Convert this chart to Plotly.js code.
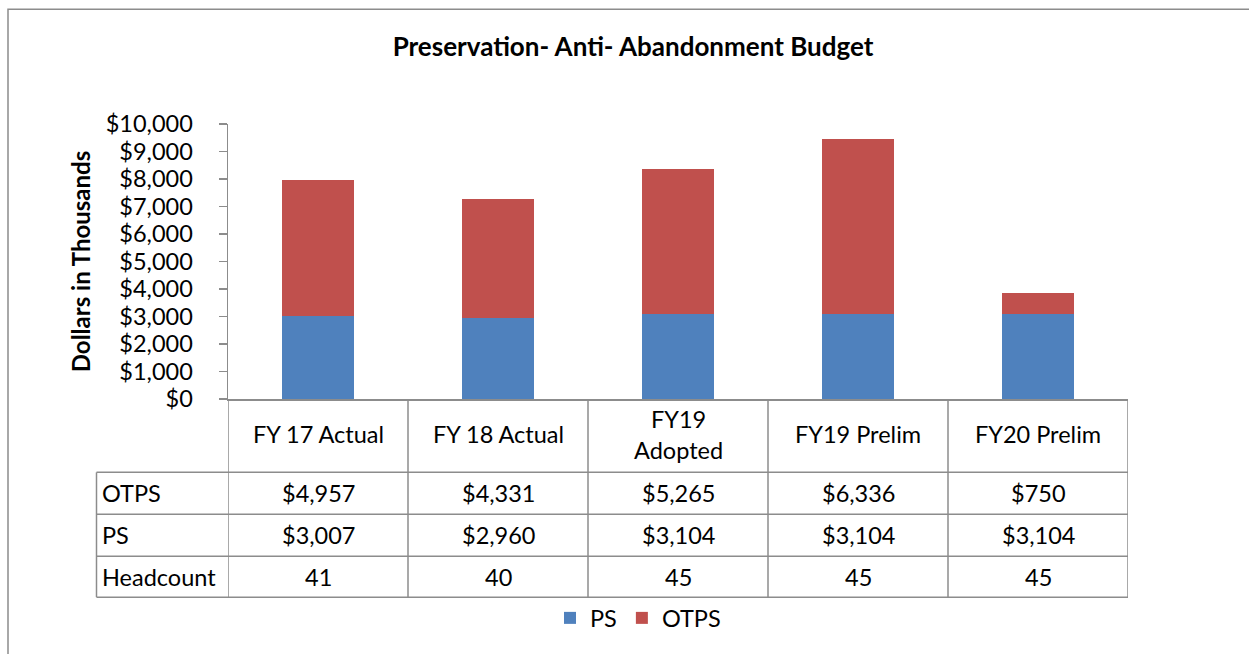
<!DOCTYPE html>
<html>
<head>
<meta charset="utf-8">
<script src="https://cdn.plot.ly/plotly-3.0.1.min.js"></script>
<style>html,body{margin:0;padding:0;background:#fff;}#chart{width:1249px;height:654px;}</style>
</head>
<body>
<div id="chart"></div>
<script>
// ---- data ----
const categories = ["FY 17 Actual", "FY 18 Actual", "FY19<br>Adopted", "FY19 Prelim", "FY20 Prelim"];
const psValues = [3007, 2960, 3104, 3104, 3104];
const otpsValues = [4957, 4331, 5265, 6336, 750];
const headcount = [41, 40, 45, 45, 45];
const rowLabels = ["OTPS", "PS", "Headcount"];
const chartTitle = "Preservation- Anti- Abandonment Budget";
const yTitle = "Dollars in Thousands";

// ---- layout helpers (pixel -> paper) ----
const W = 1249, H = 654;
const L = 228, R = 1128, T = 124, B = 399.5;
const px2x = p => (p - L) / (R - L);
const px2y = p => (B - p) / (B - T);

const FONT = "Lato, 'Noto Sans', sans-serif";
const FS = 23.5;
const GRID = "#8c8c8c";
const fmt = v => "$" + v.toLocaleString("en-US");

const traces = [
  {type: "bar", name: "PS", x: categories, y: psValues, marker: {color: "#4F81BD"}, width: 0.4, hoverinfo: "skip"},
  {type: "bar", name: "OTPS", x: categories, y: otpsValues, marker: {color: "#C0504D"}, width: 0.4, hoverinfo: "skip"}
];

const shapes = [];
const annotations = [];

// outer chart border
shapes.push({type: "rect", xref: "paper", yref: "paper", x0: px2x(8), x1: px2x(1262), y0: px2y(668), y1: px2y(9),
  line: {color: "#8c8c8c", width: 1.5}, fillcolor: "rgba(0,0,0,0)", layer: "below"});

// table rows (pixel boundaries)
const headerBottom = 473, rowBottoms = [515, 557, 598];
const rowCenters = [494, 536, 577.5];

// vertical lines at category boundaries
for (let i = 0; i <= categories.length; i++) {
  shapes.push({type: "line", xref: "x", yref: "paper", x0: i - 0.5, x1: i - 0.5, y0: px2y(B), y1: px2y(rowBottoms[2]),
    line: {color: GRID, width: 1.5}});
}
// left label column border
shapes.push({type: "line", xref: "paper", yref: "paper", x0: px2x(96.5), x1: px2x(96.5), y0: px2y(headerBottom), y1: px2y(rowBottoms[2]),
  line: {color: GRID, width: 1.5}});
// horizontal lines
[headerBottom].concat(rowBottoms).forEach(p => {
  shapes.push({type: "line", xref: "paper", yref: "paper", x0: px2x(96.5), x1: 1, y0: px2y(p), y1: px2y(p),
    line: {color: GRID, width: 1.5}});
});

// header labels
categories.forEach((c, i) => {
  annotations.push({xref: "x", yref: "paper", x: c, y: px2y(435), text: c, showarrow: false,
    font: {family: FONT, size: FS, color: "#000"}, xanchor: "center", yanchor: "middle"});
});
// row labels and values
const rows = [otpsValues.map(fmt), psValues.map(fmt), headcount.map(String)];
rowLabels.forEach((lab, r) => {
  annotations.push({xref: "paper", yref: "paper", x: px2x(100), y: px2y(rowCenters[r]), text: lab, showarrow: false,
    font: {family: FONT, size: FS, color: "#000"}, xanchor: "left", yanchor: "middle"});
  rows[r].forEach((v, i) => {
    annotations.push({xref: "x", yref: "paper", x: categories[i], y: px2y(rowCenters[r]), text: v, showarrow: false,
      font: {family: FONT, size: FS, color: "#000"}, xanchor: "center", yanchor: "middle"});
  });
});

const layout = {
  width: W, height: H,
  paper_bgcolor: "#fff", plot_bgcolor: "#fff",
  margin: {l: L, r: W - R, t: T, b: H - B, pad: 0},
  barmode: "stack",
  showlegend: true,
  font: {family: FONT, size: FS, color: "#000"},
  title: {text: "<b>" + chartTitle + "</b>", font: {family: FONT, size: 26, color: "#000"},
    xref: "container", x: 633 / W, xanchor: "center", yref: "container", y: 1 - 47 / H, yanchor: "middle"},
  xaxis: {type: "category", showticklabels: false, ticks: "", showline: true, linecolor: GRID, linewidth: 1.5,
    showgrid: false, zeroline: false, fixedrange: true, range: [-0.5, categories.length - 0.5]},
  yaxis: {range: [0, 10000], dtick: 1000, tickformat: "$,", showline: true, linecolor: GRID, linewidth: 1.5,
    ticks: "outside", ticklen: 8, tickcolor: GRID, tickwidth: 1.5, showgrid: false, zeroline: false,
    ticklabelstandoff: 21, tickfont: {family: FONT, size: FS, color: "#000"},
    title: {text: "<b>" + yTitle + "</b>", font: {family: FONT, size: 24, color: "#000"}, standoff: 8}},
  legend: {orientation: "h", xref: "paper", yref: "paper", x: px2x(638), xanchor: "center", y: px2y(619), yanchor: "middle",
    traceorder: "normal", font: {family: FONT, size: FS, color: "#000"}, itemwidth: 30, bgcolor: "rgba(0,0,0,0)"},
  shapes: shapes,
  annotations: annotations
};

Plotly.newPlot("chart", traces, layout, {displayModeBar: false, staticPlot: true});
</script>
</body>
</html>
